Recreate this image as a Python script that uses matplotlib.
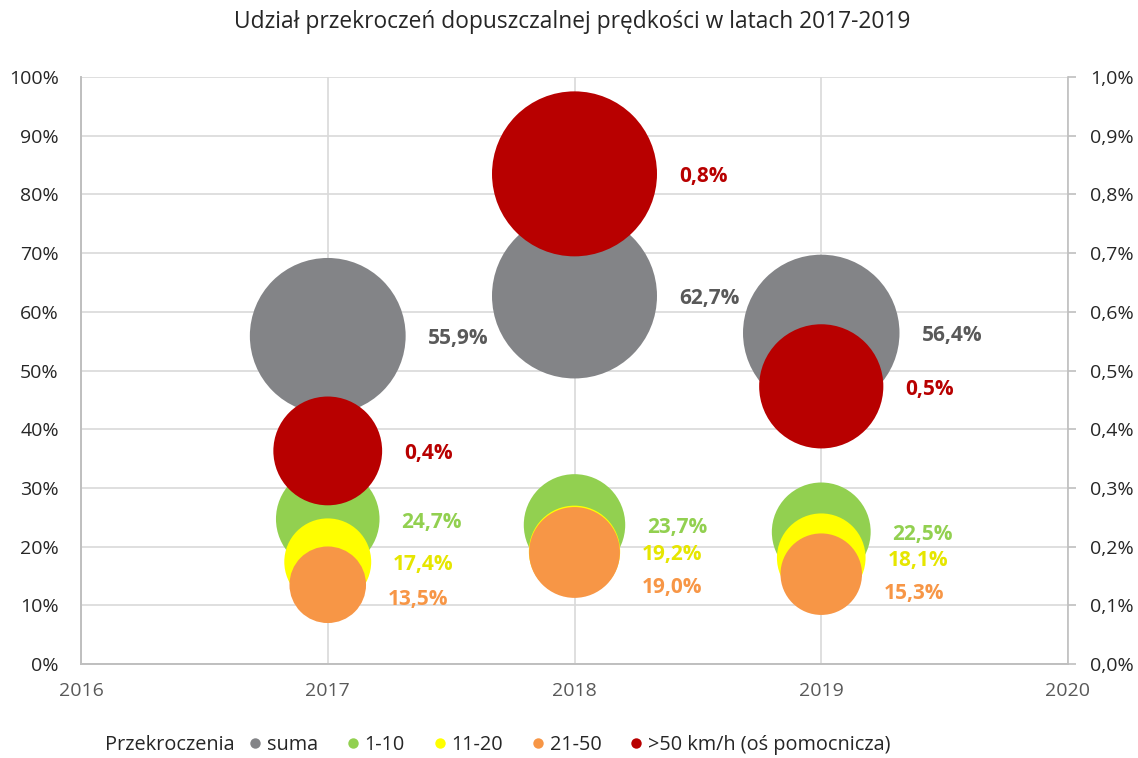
import numpy as np
import matplotlib.pyplot as plt
from matplotlib.lines import Line2D

plt.rcParams['font.family'] = ['Open Sans', 'DejaVu Sans']

# data (percent)
years = [2017, 2018, 2019]
suma = [55.9, 62.7, 56.4]
r_1_10 = [24.7, 23.7, 22.5]
r_11_20 = [17.4, 19.2, 18.1]
r_21_50 = [13.5, 19.0, 15.3]
r_50plus = [0.363, 0.835, 0.473]   # secondary axis

series_names = ['suma', '1-10', '11-20', '21-50', '>50 km/h (oś pomocnicza)']
colors = ['#838487', '#92D050', '#FFFF00', '#F79646', '#B80000']
label_colors = ['#595959', '#92D050', '#E6E600', '#F79646', '#B80000']

W, H = 1138, 758
fig = plt.figure(figsize=(W / 100, H / 100), dpi=100)
ax = fig.add_axes([81 / W, (H - 664) / H, 987 / W, 587 / H])
ax2 = ax.twinx()

px = 0.72  # points per pixel
r_max_px = 82.5
s_max = (2 * r_max_px * px) ** 2
gap_pt = 22 * px
lab_fs = 15


def fmt(v):
    return f'{v:.1f}%'.replace('.', ',')


primary = [suma, r_1_10, r_11_20, r_21_50]
vmax = max(suma)
# extra downward shift of some labels (pixels), as Excel moved them
extra_dy = {3: [12, 32, 16]}

for i, vals in enumerate(primary):
    sizes = [s_max * v / vmax for v in vals]
    ax.scatter(years, vals, s=sizes, color=colors[i], edgecolors='none', zorder=3 + i)
    for j, (x, v, s) in enumerate(zip(years, vals, sizes)):
        dy = 3 + extra_dy.get(i, [0, 0, 0])[j]
        ax.annotate(fmt(v), (x, v), xytext=(np.sqrt(s) / 2 + gap_pt, -dy * px),
                    textcoords='offset points', ha='left', va='center',
                    fontsize=lab_fs, fontweight='bold', color=label_colors[i], zorder=10)

rmax = max(r_50plus)
sizes = [s_max * v / rmax for v in r_50plus]
ax2.scatter(years, r_50plus, s=sizes, color=colors[4], edgecolors='none', zorder=3)
for x, v, s in zip(years, r_50plus, sizes):
    ax2.annotate(fmt(v), (x, v), xytext=(np.sqrt(s) / 2 + gap_pt, -3 * px),
                 textcoords='offset points', ha='left', va='center',
                 fontsize=lab_fs, fontweight='bold', color=label_colors[4], zorder=10)

# axes
ax.set_xlim(2016, 2020)
ax.set_ylim(0, 100)
ax2.set_ylim(0, 1.0)
ax.set_xticks([2016, 2017, 2018, 2019, 2020])
ax.set_yticks(np.arange(0, 101, 10))
ax2.set_yticks(np.arange(0, 1.01, 0.1))
ax.set_yticklabels([f'{int(t)}%' for t in np.arange(0, 101, 10)])
ax2.set_yticklabels([f'{t:.1f}%'.replace('.', ',') for t in np.arange(0, 1.01, 0.1)])

ax.grid(True, color='#D9D9D9', linewidth=1.2, zorder=0)
ax.set_axisbelow(True)
for a in (ax, ax2):
    a.spines['top'].set_visible(False)
    for sp in ('left', 'right', 'bottom'):
        a.spines[sp].set_color('#BFBFBF')
        a.spines[sp].set_linewidth(1.2)
ax.spines['right'].set_visible(False)

ax.tick_params(axis='y', length=0, pad=16, labelsize=14, labelcolor='#262626')
ax.tick_params(axis='x', length=0, pad=13, labelsize=14, labelcolor='#595959')
ax2.tick_params(axis='y', length=6, width=1.2, color='#BFBFBF', pad=10,
                labelsize=14, labelcolor='#262626')

fig.text(0.503, 1 - 22 / H, 'Udział przekroczeń dopuszczalnej prędkości w latach 2017-2019',
         ha='center', va='center', fontsize=16.4, color='#262626')

# legend
fig.text(105 / W, 1 - 745 / H, 'Przekroczenia', ha='left', va='center',
         fontsize=14.3, color='#262626')
handles = [Line2D([], [], marker='o', linestyle='none', markersize=7.5,
                  markerfacecolor=c, markeredgecolor='none') for c in colors]
fig.legend(handles, series_names, loc='center left', bbox_to_anchor=(243 / W, 1 - 745 / H),
           ncol=5, frameon=False, fontsize=14.3, handletextpad=0.0,
           columnspacing=1.15, handlelength=1.2, labelcolor='#262626',
           borderpad=0, borderaxespad=0)

fig.savefig('out.png', dpi=100)
